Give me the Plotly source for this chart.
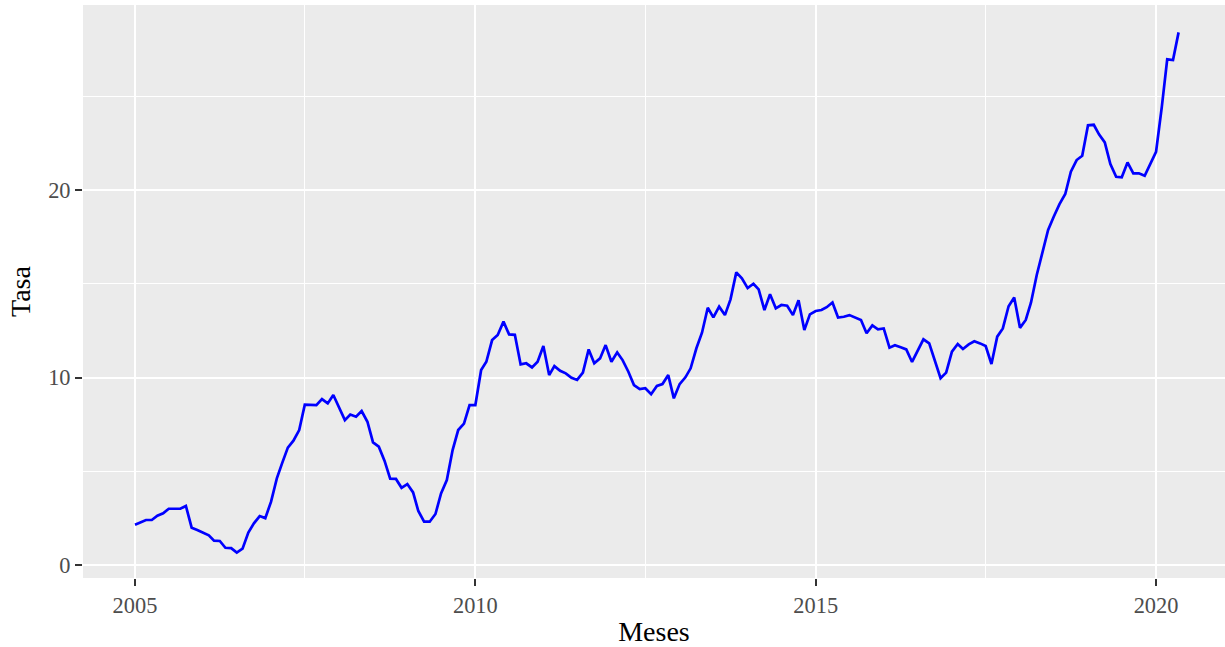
import pandas as pd
import plotly.graph_objects as go

start_month = "2005-01-01"
y2005 = [2.15, 2.28, 2.40, 2.40, 2.63, 2.76, 3.00, 3.00, 3.00, 3.15, 1.99, 1.87]
y2006 = [1.73, 1.58, 1.30, 1.28, 0.92, 0.90, 0.66, 0.87, 1.73, 2.22, 2.61, 2.50]
y2007 = [3.38, 4.62, 5.42, 6.26, 6.63, 7.20, 8.55, 8.52, 8.53, 8.85, 8.62, 9.07]
y2008 = [8.36, 7.73, 8.03, 7.91, 8.21, 7.64, 6.54, 6.31, 5.55, 4.60, 4.59, 4.12]
y2009 = [4.32, 3.87, 2.88, 2.31, 2.31, 2.72, 3.82, 4.53, 6.13, 7.20, 7.54, 8.53]
y2010 = [8.53, 10.40, 10.84, 12.00, 12.27, 12.98, 12.30, 12.28, 10.70, 10.76, 10.54, 10.84]
y2011 = [11.68, 10.13, 10.61, 10.36, 10.22, 9.99, 9.87, 10.26, 11.50, 10.76, 11.02, 11.73]
y2012 = [10.84, 11.34, 10.93, 10.31, 9.60, 9.38, 9.43, 9.11, 9.55, 9.65, 10.13, 8.89]
y2013 = [9.65, 10.01, 10.49, 11.56, 12.39, 13.72, 13.21, 13.78, 13.33, 14.17, 15.61, 15.29]
y2014 = [14.77, 15.00, 14.70, 13.60, 14.44, 13.69, 13.87, 13.83, 13.33, 14.12, 12.53, 13.37]
y2015 = [13.55, 13.60, 13.75, 14.00, 13.20, 13.24, 13.33, 13.19, 13.07, 12.36, 12.78, 12.57]
y2016 = [12.62, 11.59, 11.72, 11.61, 11.50, 10.83, 11.43, 12.04, 11.82, 10.90, 9.96, 10.26]
y2017 = [11.38, 11.79, 11.52, 11.77, 11.93, 11.82, 11.68, 10.72, 12.18, 12.62, 13.80, 14.27]
y2018 = [12.65, 13.07, 13.99, 15.47, 16.71, 17.87, 18.58, 19.25, 19.79, 20.98, 21.60, 21.83]
y2019 = [23.45, 23.48, 22.97, 22.54, 21.39, 20.71, 20.68, 21.47, 20.89, 20.89, 20.76, 21.39]
y2020 = [22.04, 24.44, 26.97, 26.93, 28.41]

tasa = (y2005 + y2006 + y2007 + y2008 + y2009 + y2010 + y2011 + y2012
        + y2013 + y2014 + y2015 + y2016 + y2017 + y2018 + y2019 + y2020)
meses = pd.date_range(start_month, periods=len(tasa), freq="MS")

x_tick_vals = ["2005-01-01", "2010-01-01", "2015-01-01", "2020-01-01"]
x_tick_text = ["2005", "2010", "2015", "2020"]
y_tick_vals = [0, 10, 20]
y_tick_text = ["0", "10", "20"]

fig = go.Figure()
fig.add_trace(go.Scatter(x=meses, y=tasa, mode="lines",
                         line=dict(color="#0000FF", width=2.7),
                         showlegend=False))

serif = "Liberation Serif, Times New Roman, serif"
fig.update_layout(
    width=1225, height=647,
    margin=dict(l=83, r=0, t=5, b=69),
    paper_bgcolor="white",
    plot_bgcolor="#EBEBEB",
    font=dict(family=serif, color="#4D4D4D", size=22.4),
)
fig.update_xaxes(
    type="date",
    range=["2004-03-28", "2021-01-05"],
    tickvals=x_tick_vals, ticktext=x_tick_text,
    showgrid=True, gridcolor="white", gridwidth=2.2,
    minor=dict(dtick="M30", tick0="2005-01-01", showgrid=True,
               gridcolor="white", gridwidth=1.1),
    ticks="outside", ticklen=7, tickwidth=2.2, tickcolor="#333333",
    tickfont=dict(family=serif, size=22.4, color="#4D4D4D"),
    zeroline=False, showline=False,
    title=dict(text="Meses", font=dict(family=serif, size=28, color="black"),
               standoff=5),
)
fig.update_yaxes(
    range=[-0.693, 29.87],
    tickvals=y_tick_vals, ticktext=y_tick_text,
    showgrid=True, gridcolor="white", gridwidth=2.2,
    minor=dict(dtick=5, tick0=0, showgrid=True,
               gridcolor="white", gridwidth=1.1),
    ticks="outside", ticklen=7, tickwidth=2.2, tickcolor="#333333",
    tickfont=dict(family=serif, size=22.4, color="#4D4D4D"),
    zeroline=False, showline=False,
    title=dict(text="Tasa", font=dict(family=serif, size=28, color="black"),
               standoff=9),
)

fig.write_html("out.html",
               config={"displayModeBar": False},
               post_script="document.body.style.margin='0';"
                           "document.body.style.overflow='hidden';")
